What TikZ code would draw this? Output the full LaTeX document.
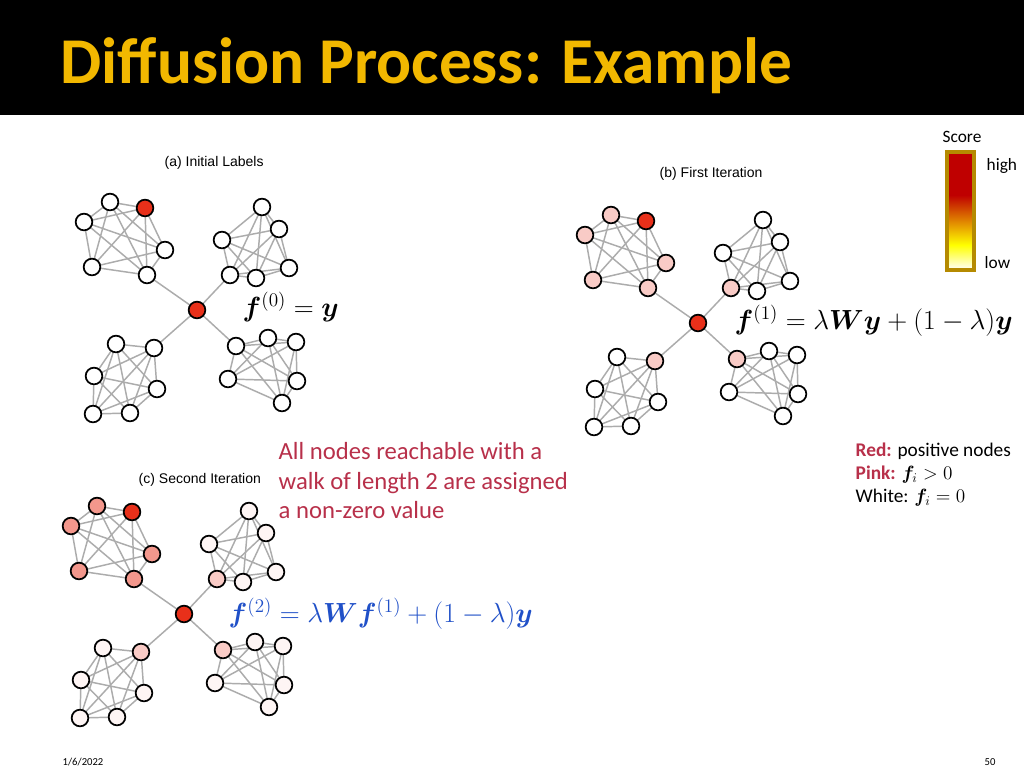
\documentclass[tikz,border=0pt]{standalone}
\usepackage{fontspec}
\usepackage{amsmath,bm}
\setmainfont{Carlito}
\newfontfamily\arialf{Liberation Sans}
\definecolor{gold}{HTML}{F2B800}
\definecolor{nred}{HTML}{E8301A}
\definecolor{txtred}{HTML}{B8304A}
\definecolor{eqblue}{HTML}{2050C8}
\colorlet{colR}{nred}\colorlet{colT}{white}\colorlet{colC}{white}\colorlet{colW}{white}
\tikzset{gn/.style={circle,draw=black,line width=1.3pt,minimum size=12.5pt,inner sep=0pt},
  ge/.style={draw=gray!65,line width=1.1pt},
  lab/.style={font=\arialf\fontsize{10.5}{12}\selectfont,anchor=west}}
\newcommand\drawgraph[3]{%
  \foreach \i/\x/\y/\c in {0/197/310/R,1/110/202/T,2/145/208/R,3/84/222/T,4/165/250/T,5/92/267/T,6/147/275/T,
    7/262/207/W,8/222/240/W,9/279/229/W,10/230/275/C,11/256/278/W,12/289/268/W,
    13/116/344/W,14/154/348/C,15/94/376/W,16/157/389/W,17/93/414/W,18/130/413/W,
    19/236/346/C,20/268/338/W,21/296/342/W,22/228/379/W,23/297/381/W,24/282/403/W}
    {\coordinate (#1c\i) at (\x+#2,\y+#3);}
  \foreach \s in {1,7,13,19}{\foreach \a in {0,...,4}{\foreach \b in {\a,...,5}{%
    \pgfmathtruncatemacro\u{\s+\a}\pgfmathtruncatemacro\v{\s+\b}%
    \ifnum\u<\v \draw[ge] (#1c\u) -- (#1c\v);\fi}}}
  \foreach \k in {6,10,14,19}{\draw[ge] (#1c0) -- (#1c\k);}
  \foreach \i/\c in {0/R,1/T,2/R,3/T,4/T,5/T,6/T,7/W,8/W,9/W,10/C,11/W,12/W,13/W,14/C,15/W,16/W,17/W,18/W,19/C,20/W,21/W,22/W,23/W,24/W}
    {\node[gn,fill=col\c] (#1n\i) at (#1c\i) {};}
}
\begin{document}
\begin{tikzpicture}[x=0.75pt,y=-0.75pt]
\useasboundingbox (0,0) rectangle (1024,768);
\fill[white] (0,0) rectangle (1024,768);
\fill[black] (0,0) rectangle (1024,115);
\node[anchor=west,text=gold,font=\bfseries\fontsize{49}{54}\selectfont] (title) at (56,66) {Diffusion Process: Example};
% graphs
\drawgraph{a}{0}{0}
\node[lab] (la) at (160,163) {(a) Initial Labels};
\node[anchor=west,font=\fontsize{22}{24}\selectfont] (ea) at (238,307) {$\bm{f}^{(0)}=\bm{y}$};
\colorlet{colT}{nred!25}\colorlet{colC}{nred!25}
\drawgraph{b}{501}{13}
\node[lab] (lb) at (655,174) {(b) First Iteration};
\node[anchor=west,font=\fontsize{22}{24}\selectfont] (eb) at (730,321) {$\bm{f}^{(1)}=\lambda\bm{W}\bm{y}+(1-\lambda)\bm{y}$};
\colorlet{colT}{nred!50}\colorlet{colC}{nred!25}\colorlet{colW}{nred!5}
\drawgraph{c}{-13}{304}
\node[lab] (lc) at (134,480) {(c) Second Iteration};
\node[anchor=west,text=eqblue,font=\fontsize{22}{24}\selectfont] (ec) at (224,614) {$\bm{f}^{(2)}=\lambda\bm{W}\bm{f}^{(1)}+(1-\lambda)\bm{y}$};
% annotation
\node[anchor=north west,text=txtred,align=left,font=\fontsize{18.5}{22}\selectfont] (note) at (274,438) {All nodes reachable with a\\walk of length 2 are assigned\\a non-zero value};
% legend
\node[anchor=north west,align=left,font=\fontsize{14.5}{17.5}\selectfont] (leg) at (851,438)
  {\textcolor{txtred}{\bfseries Red:} positive nodes\\ \textcolor{txtred}{\bfseries Pink:} $\bm{f}_i>0$\\ White: $\bm{f}_i=0$};
% colour bar
\shade[top color=red!75!black,bottom color=red!75!black] (947,152) rectangle (974,195);
\shade[top color=red!75!black,bottom color=yellow] (947,195) rectangle (974,245);
\shade[top color=yellow,bottom color=white] (947,245) rectangle (974,270);
\draw[draw=gold!75!black,line width=3pt] (947,152) rectangle (974,270);
\node[font=\fontsize{13}{14}\selectfont] (score) at (962,137) {Score};
\node[anchor=west,font=\fontsize{13}{14}\selectfont] (high) at (982,166) {high};
\node[anchor=west,font=\fontsize{13}{14}\selectfont] (low) at (980,263) {low};
\node[anchor=west,font=\fontsize{8}{9}\selectfont] (date) at (58,762) {1/6/2022};
\node[font=\fontsize{8}{9}\selectfont] (pg) at (990,762) {50};
\end{tikzpicture}
\end{document}
